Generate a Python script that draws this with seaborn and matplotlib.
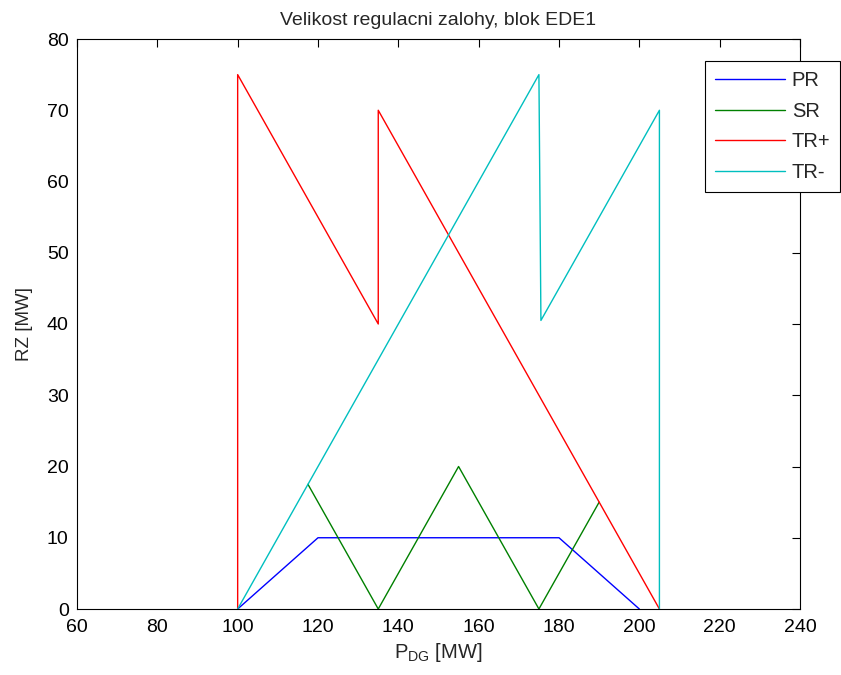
import matplotlib
matplotlib.use("Agg")
import matplotlib.pyplot as plt
import seaborn as sns
import pandas as pd

# Data
pr_x = [100, 120, 180, 200]
pr_y = [0, 10, 10, 0]
sr_x = [117.5, 135, 155, 175, 190]
sr_y = [17.5, 0, 20, 0, 15]
trp_x = [100, 100, 135, 135, 205]
trp_y = [0, 75, 40, 70, 0]
trm_x = [100, 175, 175.5, 205, 205]
trm_y = [0, 75, 40.5, 70, 0]

series = [("PR", pr_x, pr_y, (0, 0, 1)),
          ("SR", sr_x, sr_y, (0, 0.5, 0)),
          ("TR+", trp_x, trp_y, (1, 0, 0)),
          ("TR-", trm_x, trm_y, (0, 0.75, 0.75))]

sns.set_theme(style="white")
plt.rcParams['font.family'] = ['Liberation Sans', 'DejaVu Sans']

fig = plt.figure(figsize=(8.41, 6.75), dpi=100)
ax = fig.add_axes([77/841, 66/675, 723/841, 570/675])

for name, xs, ys, col in series:
    df = pd.DataFrame({"x": xs, "y": ys})
    sns.lineplot(data=df, x="x", y="y", sort=False, estimator=None,
                 color=col, lw=1, ax=ax, label=name)

ax.set_xlim(60, 240)
ax.set_ylim(0, 80)
ax.set_xticks(range(60, 241, 20))
ax.set_yticks(range(0, 81, 10))
ax.tick_params(direction="in", top=True, right=True, length=6, width=0.8,
               labelsize=14, colors="black")
ax.tick_params(axis="y", pad=6)
ax.tick_params(axis="x", pad=7)
for s in ax.spines.values():
    s.set_color("black")
    s.set_linewidth(0.8)
ax.set_xlabel(r"P$_{\mathregular{DG}}$ [MW]", fontsize=14.5, labelpad=4)
ax.set_ylabel("RZ [MW]", fontsize=13.5, labelpad=10)
ax.set_title("Velikost regulacni zalohy, blok EDE1", fontsize=14, pad=10)

leg = ax.legend(loc="upper left", bbox_to_anchor=(705/841, 1 - 61/675),
                bbox_transform=fig.transFigure, fontsize=14.5, frameon=True,
                fancybox=False, handlelength=3.45, borderpad=0.5,
                labelspacing=0.58, handletextpad=0.36, borderaxespad=0)
leg.get_frame().set_edgecolor("black")
leg.get_frame().set_linewidth(0.8)
leg.get_frame().set_alpha(1)

fig.savefig("out.png", dpi=100)
